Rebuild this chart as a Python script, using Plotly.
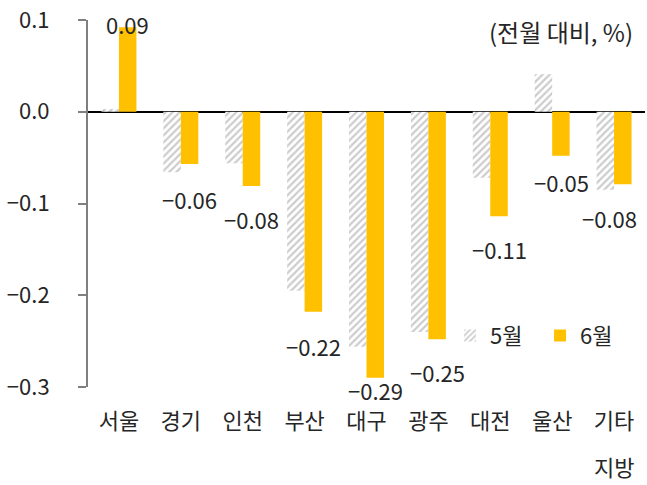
import plotly.graph_objects as go

categories = ["서울", "경기", "인천", "부산", "대구", "광주", "대전", "울산", "기타 지방"]
tick_text = ["서울", "경기", "인천", "부산", "대구", "광주", "대전", "울산", "기타"]
second_line = "지방"
may = [0.003, -0.066, -0.056, -0.195, -0.256, -0.240, -0.072, 0.041, -0.085]
june = [0.092, -0.057, -0.081, -0.218, -0.290, -0.248, -0.114, -0.048, -0.079]
june_labels = ["0.09", "−0.06", "−0.08", "−0.22", "−0.29", "−0.25", "−0.11", "−0.05", "−0.08"]
label_yshift = [3, -35, -33, -34, -12, -33, -33, -26, -34]
label_xshift = [9, 9, 9, 9, 9, 9, 9, 9, -5]
ytick_vals = [0.1, 0.0, -0.1, -0.2, -0.3]

FONT = "Noto Sans CJK KR"
FS = 22
TXT = "#262626"
fig = go.Figure()
fig.add_trace(go.Bar(
    x=categories, y=may, name="5월",
    marker=dict(color="white", line=dict(width=0),
                pattern=dict(shape="/", fgcolor="#999999", bgcolor="white", size=5, solidity=0.45)),
))
fig.add_trace(go.Bar(
    x=categories, y=june, name="6월",
    marker=dict(color="#FFC000", line=dict(width=0)),
))

for c, v, t, ys, xs in zip(categories, june, june_labels, label_yshift, label_xshift):
    fig.add_annotation(x=c, y=v, text=t, showarrow=False, xshift=xs, yshift=ys,
                       xanchor="center", yanchor="middle",
                       font=dict(family=FONT, size=FS, color=TXT))

fig.add_annotation(x=categories[-1], xref="x", yref="paper", y=-0.215, text=second_line,
                   showarrow=False, xanchor="center", yanchor="middle",
                   font=dict(family=FONT, size=FS, color=TXT))

fig.add_annotation(xref="paper", yref="paper", x=0.982, y=0.97, xanchor="right", yanchor="middle",
                   text="(전월 대비, %)", showarrow=False,
                   font=dict(family=FONT, size=24, color=TXT))

fig.update_layout(
    width=647, height=485,
    margin=dict(l=88, r=2, t=17, b=98),
    paper_bgcolor="white", plot_bgcolor="white",
    barmode="group", bargap=0.435, bargroupgap=0,
    font=dict(family=FONT, size=FS, color=TXT),
    showlegend=True,
    legend=dict(orientation="h", x=0.65, y=0.14, xanchor="left", yanchor="middle",
                bgcolor="rgba(0,0,0,0)", font=dict(family=FONT, size=FS, color=TXT),
                itemwidth=30, entrywidth=45, entrywidthmode="pixels"),
    xaxis=dict(showline=False, ticks="", showgrid=False, zeroline=False,
               tickmode="array", tickvals=categories, ticktext=tick_text,
               tickfont=dict(family=FONT, size=FS, color=TXT), ticklabelstandoff=19),
    yaxis=dict(range=[-0.3, 0.1], tickvals=ytick_vals, tickformat=".1f",
               ticklabeloverflow="allow",
               showgrid=False, showline=True, linecolor="#7F7F7F", linewidth=2,
               ticks="outside", ticklen=8, tickcolor="#7F7F7F", tickwidth=2,
               zeroline=True, zerolinecolor="black", zerolinewidth=2,
               tickfont=dict(family=FONT, size=FS, color=TXT), ticklabelstandoff=24),
)

fig.write_html("out.html", config={"displayModeBar": False},
               post_script="document.body.style.margin='0';")
